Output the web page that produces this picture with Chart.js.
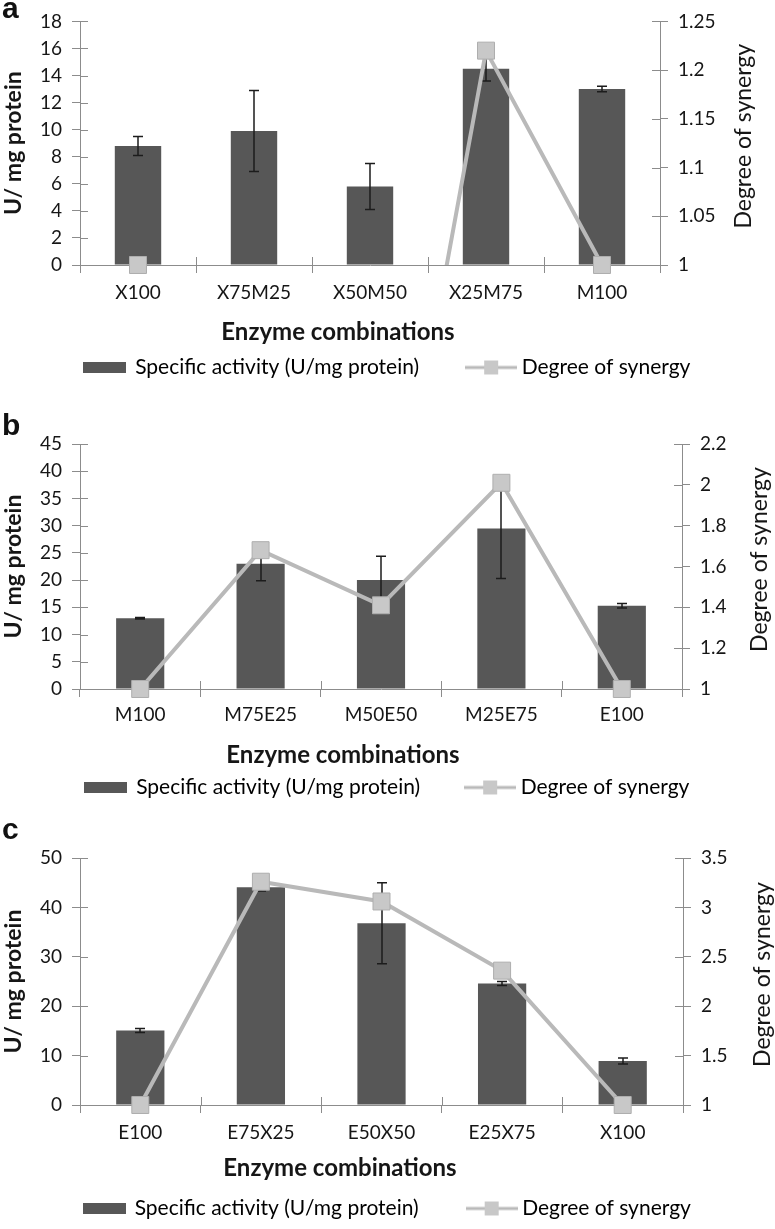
<!DOCTYPE html>
<html>
<head>
<title>Enzyme combinations</title>
<style>
  body { margin: 0; background: #fff; }
  #page { position: relative; width: 775px; height: 1229px; overflow: hidden; }
  canvas { position: absolute; left: 0; }
  .tag { position: absolute; left: 2px; font: bold 30px "Liberation Sans", Arial, sans-serif; line-height: 30px; color: #111; }
</style>
<script src="https://cdn.jsdelivr.net/npm/chart.js"></script>
</head>
<body>
<div id="page">
  <canvas id="chartA" width="775" height="390" style="top:0"></canvas>
  <canvas id="chartB" width="775" height="420" style="top:390px"></canvas>
  <canvas id="chartC" width="775" height="419" style="top:810px"></canvas>
  <div class="tag" style="top:-7px">a</div>
  <div class="tag" style="top:410px">b</div>
  <div class="tag" style="top:814px">c</div>
</div>
<script>
// panel a
const labelsA = ["X100", "X75M25", "X50M50", "X25M75", "M100"];
const activityA = [8.8, 9.9, 5.8, 14.5, 13.0];
const errorA = [0.7, 3.0, 1.7, 0.9, 0.2];
const synergyA = [1, 0.6, 0.57, 1.22, 1];
const leftTicksA = [0, 2, 4, 6, 8, 10, 12, 14, 16, 18];
const rightTicksA = [1, 1.05, 1.1, 1.15, 1.2, 1.25];

// panel b
const labelsB = ["M100", "M75E25", "M50E50", "M25E75", "E100"];
const activityB = [13.0, 23.0, 20.0, 29.5, 15.3];
const errorB = [0.15, 3.1, 4.4, 9.2, 0.4];
const synergyB = [1, 1.68, 1.41, 2.01, 1];
const leftTicksB = [0, 5, 10, 15, 20, 25, 30, 35, 40, 45];
const rightTicksB = [1, 1.2, 1.4, 1.6, 1.8, 2, 2.2];

// panel c
const labelsC = ["E100", "E75X25", "E50X50", "E25X75", "X100"];
const activityC = [15.1, 44.1, 36.8, 24.6, 8.9];
const errorC = [0.4, 0.8, 8.2, 0.4, 0.6];
const synergyC = [1, 3.26, 3.06, 2.36, 1];
const leftTicksC = [0, 10, 20, 30, 40, 50];
const rightTicksC = [1, 1.5, 2, 2.5, 3, 3.5];

const AXIS = "#8c8c8c";
const BAR = "#575757";
const LINE = "#b9b9b9";
const MARK = "#c8c8c8";
const TEXT = "#161616";

Chart.defaults.font.family = "Lato, 'Open Sans', sans-serif";
Chart.defaults.color = TEXT;

function legendIcon(kind) {
    const c = document.createElement("canvas");
    if (kind === "bar") {
        c.width = 43; c.height = 11;
        const g = c.getContext("2d");
        g.fillStyle = BAR;
        g.fillRect(0, 0, 43, 11);
    } else {
        c.width = 52; c.height = 18;
        const g = c.getContext("2d");
        g.strokeStyle = LINE; g.lineWidth = 3;
        g.beginPath(); g.moveTo(0, 9); g.lineTo(52, 9); g.stroke();
        g.fillStyle = MARK; g.fillRect(19, 2, 14, 14);
    }
    return c;
}
const barIcon = legendIcon("bar");
const lineIcon = legendIcon("line");

// error bars, drawn right after the bars so the synergy line sits on top
const errorBars = {
    id: "errorBars",
    afterDatasetDraw(chart, args, opts) {
        if (args.index !== 0) return;
        const ctx = chart.ctx, y = chart.scales.y;
        const values = chart.data.datasets[0].data;
        ctx.save();
        ctx.strokeStyle = "#1c1c1c";
        ctx.lineWidth = 1.5;
        args.meta.data.forEach((bar, i) => {
            const top = y.getPixelForValue(values[i] + opts.errors[i]);
            const bot = y.getPixelForValue(values[i] - opts.errors[i]);
            const x = Math.round(bar.x);
            ctx.beginPath();
            ctx.moveTo(x, top); ctx.lineTo(x, bot);
            ctx.moveTo(x - 5, top); ctx.lineTo(x + 5, top);
            ctx.moveTo(x - 5, bot); ctx.lineTo(x + 5, bot);
            ctx.stroke();
        });
        ctx.restore();
    }
};

// Excel style cross tick marks: the inner half of each tick
const innerTicks = {
    id: "innerTicks",
    beforeDatasetsDraw(chart) {
        const { ctx, chartArea: a, scales } = chart;
        const px = v => Math.round(v) + 0.5;
        ctx.save();
        ctx.strokeStyle = AXIS;
        ctx.lineWidth = 1;
        ctx.beginPath();
        scales.y.ticks.forEach(t => {
            const p = px(scales.y.getPixelForValue(t.value));
            ctx.moveTo(a.left, p); ctx.lineTo(a.left + 8, p);
        });
        scales.y2.ticks.forEach(t => {
            const p = px(scales.y2.getPixelForValue(t.value));
            ctx.moveTo(a.right - 8, p); ctx.lineTo(a.right, p);
        });
        for (let i = 0; i <= scales.x.ticks.length; i++) {
            const p = px(scales.x.getPixelForValue(i - 0.5));
            ctx.moveTo(p, a.bottom - 8); ctx.lineTo(p, a.bottom);
        }
        ctx.stroke();
        ctx.restore();
    }
};

// x title (sits left of centre) and right title (reads bottom to top)
const sideTitles = {
    id: "sideTitles",
    afterDraw(chart, args, o) {
        const { ctx, chartArea: a } = chart;
        ctx.save();
        ctx.fillStyle = TEXT;
        ctx.textAlign = "center";
        ctx.textBaseline = "middle";
        ctx.font = "bold 24px Lato";
        ctx.fillText("Enzyme combinations", o.xTitleX, a.bottom + o.xTitleDy);
        ctx.translate(o.rightTitleX, (a.top + a.bottom) / 2 - 7);
        ctx.rotate(-Math.PI / 2);
        ctx.font = "23px Lato";
        ctx.fillText("Degree of synergy", 0, 0);
        ctx.restore();
    }
};

function makeChart(id, p) {
    const r1 = p.rightTicks[0];
    return new Chart(document.getElementById(id), {
        type: "bar",
        data: {
            labels: p.labels,
            datasets: [
                {
                    type: "bar",
                    label: "Specific activity (U/mg protein)",
                    data: p.activity,
                    yAxisID: "y",
                    backgroundColor: BAR,
                    barPercentage: 0.4,
                    categoryPercentage: 1,
                    order: 2
                },
                {
                    type: "line",
                    label: "Degree of synergy",
                    data: p.synergy,
                    yAxisID: "y2",
                    borderColor: LINE,
                    borderWidth: 4,
                    pointRadius: 0,
                    tension: 0,
                    clip: { left: false, top: false, right: false, bottom: 0 },
                    order: 1
                },
                {
                    type: "line",
                    label: "markers",
                    data: p.synergy,
                    yAxisID: "y2",
                    showLine: false,
                    pointStyle: "rect",
                    pointRadius: c => (c.raw < r1 ? 0 : 12),
                    backgroundColor: MARK,
                    borderColor: "#aeaeae",
                    borderWidth: 1,
                    clip: false,
                    order: 0
                }
            ]
        },
        options: {
            responsive: false,
            animation: false,
            layout: { padding: { top: p.padTop, bottom: p.padBottom, left: 0, right: 0 } },
            scales: {
                x: {
                    grid: { offset: true, drawOnChartArea: false, tickLength: 8, color: AXIS },
                    border: { color: AXIS },
                    ticks: { font: { size: 19 }, padding: p.xLabelPad, color: TEXT },
                    afterFit: s => { s.height = p.xAxisH; }
                },
                y: {
                    position: "left",
                    min: p.leftTicks[0],
                    max: p.leftTicks[p.leftTicks.length - 1],
                    afterBuildTicks: s => { s.ticks = p.leftTicks.map(v => ({ value: v })); },
                    grid: { drawOnChartArea: false, tickLength: 8, color: AXIS },
                    border: { color: AXIS },
                    ticks: { font: { size: 19 }, padding: 10, color: TEXT, callback: v => String(v) },
                    title: {
                        display: true,
                        text: "U/ mg protein",
                        font: { size: 23, weight: "bold" },
                        color: TEXT,
                        padding: { top: 0, bottom: 0 }
                    },
                    afterFit: s => { s.width = 80; }
                },
                y2: {
                    position: "right",
                    min: p.rightTicks[0],
                    max: p.rightTicks[p.rightTicks.length - 1],
                    afterBuildTicks: s => { s.ticks = p.rightTicks.map(v => ({ value: v })); },
                    grid: { drawOnChartArea: false, tickLength: 8, color: AXIS },
                    border: { color: AXIS },
                    ticks: { font: { size: 19 }, padding: 10, color: TEXT, callback: v => String(v) },
                    afterFit: s => { s.width = p.rightW; }
                }
            },
            plugins: {
                tooltip: { enabled: false },
                legend: {
                    position: "bottom",
                    labels: {
                        usePointStyle: true,
                        pointStyleWidth: 40,
                        padding: p.legendPad,
                        font: { size: 21 },
                        color: TEXT,
                        generateLabels: () => [
                            { text: "Specific activity (U/mg protein)", pointStyle: barIcon, lineWidth: 0, datasetIndex: 0, hidden: false },
                            { text: "Degree of synergy", pointStyle: lineIcon, lineWidth: 0, datasetIndex: 1, hidden: false }
                        ]
                    }
                },
                errorBars: { errors: p.errors },
                sideTitles: { xTitleX: p.xTitleX, xTitleDy: p.xTitleDy, rightTitleX: p.rightTitleX }
            }
        },
        plugins: [innerTicks, errorBars, sideTitles]
    });
}

makeChart("chartA", {
    labels: labelsA, activity: activityA, errors: errorA, synergy: synergyA,
    leftTicks: leftTicksA, rightTicks: rightTicksA,
    padTop: 18, padBottom: 2, xAxisH: 40, xLabelPad: 8, legendPad: 52,
    rightW: 115, xTitleX: 338, xTitleDy: 67, rightTitleX: 744
});
makeChart("chartB", {
    labels: labelsB, activity: activityB, errors: errorB, synergy: synergyB,
    leftTicks: leftTicksB, rightTicks: rightTicksB,
    padTop: 54, padBottom: 2, xAxisH: 38, xLabelPad: 6, legendPad: 50,
    rightW: 93, xTitleX: 343, xTitleDy: 66, rightTitleX: 760
});
makeChart("chartC", {
    labels: labelsC, activity: activityC, errors: errorC, synergy: synergyC,
    leftTicks: leftTicksC, rightTicks: rightTicksC,
    padTop: 48, padBottom: 0, xAxisH: 40, xLabelPad: 8, legendPad: 53,
    rightW: 92, xTitleX: 340, xTitleDy: 63, rightTitleX: 763
});
</script>
</body>
</html>
